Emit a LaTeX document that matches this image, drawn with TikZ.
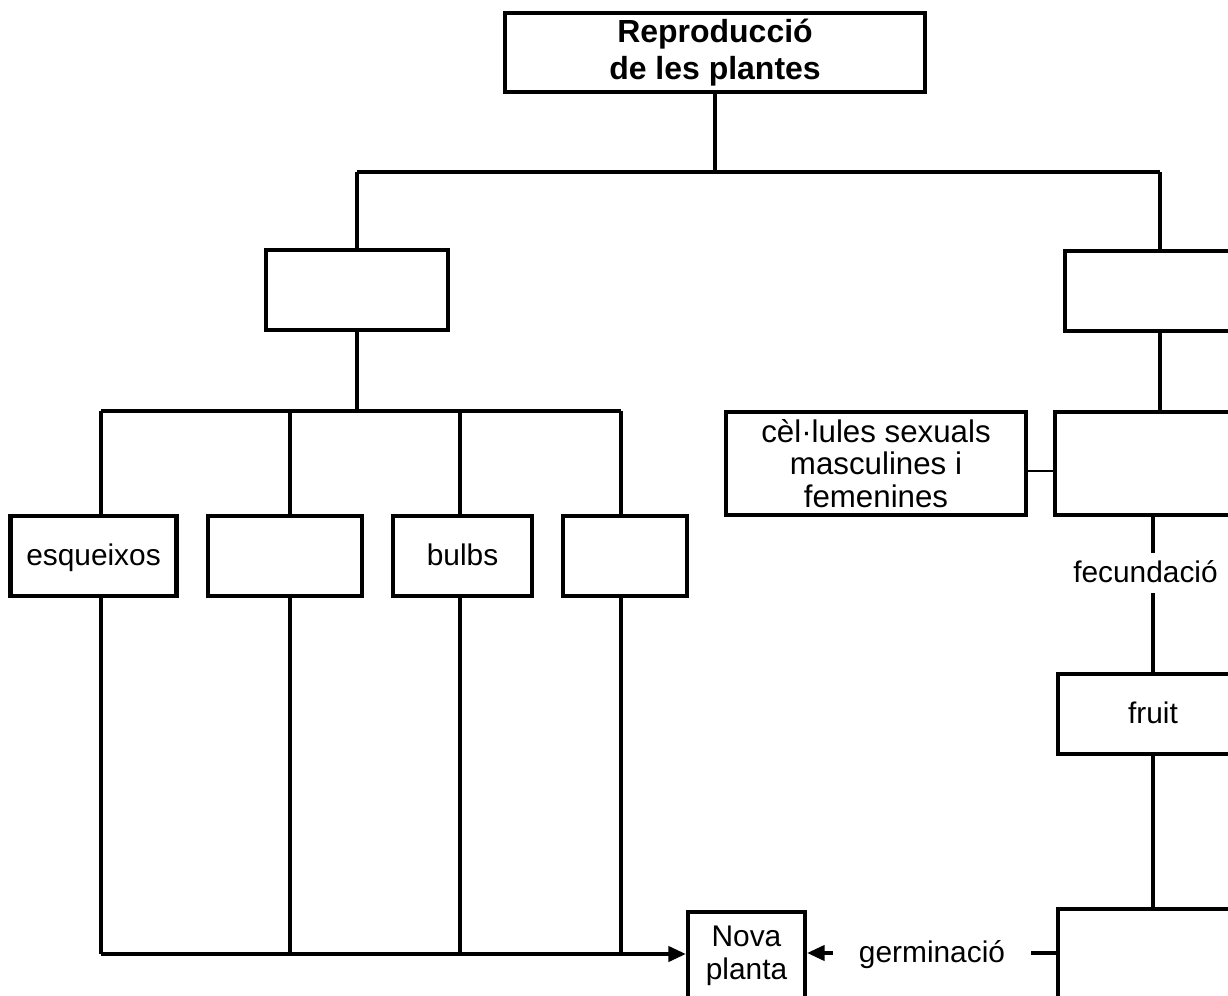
\documentclass[tikz,border=0pt]{standalone}
\usepackage{fontspec}
\setmainfont{Liberation Sans}
\usetikzlibrary{arrows.meta}
\begin{document}
\begin{tikzpicture}[x=0.02cm, y=-0.02cm,
  line width=2.3pt,
  frame/.style={draw, line width=2.3pt, inner sep=0pt},
  onebox/.style={frame, text height=0.4cm, text depth=0pt,
    font=\fontsize{17}{18.7}\selectfont},
  box/.style={frame, align=center, font=\fontsize{17}{18.7}\selectfont},
  title/.style={frame, align=center, font=\bfseries\fontsize{18.2}{21}\selectfont},
  word/.style={inner sep=0pt, text height=0.4cm, text depth=0pt,
    font=\fontsize{17}{18.7}\selectfont},
  tip/.style={-{Triangle[length=10pt, width=8.5pt]}},
  thin link/.style={line width=1.6pt}]
\useasboundingbox (0,0) rectangle (1228,996);
\clip (0,0) rectangle (1228,996);

% root
\node[title, minimum width=8.4cm, minimum height=1.58cm] (top) at (715,52.5)
  {Reproducció\\de les plantes};

% first level
\node[frame, minimum width=3.64cm, minimum height=1.6cm] (asex) at (357,290) {};
\node[frame, minimum width=3.8cm, minimum height=1.6cm] (sex) at (1160,291) {};

\coordinate (tl) at (357,172);
\coordinate (tr) at (1160,172);
\draw (top.south) -- (top.south |- tl);
\draw (tl) -- (tr);
\draw (tl) -- (asex.north);
\draw (tr) -- (sex.north);

% asexual branch
\coordinate (j1) at (101,411);
\coordinate (j2) at (290,411);
\coordinate (j3) at (460,411);
\coordinate (j4) at (621,411);
\draw (asex.south) -- (asex.south |- j1);
\draw (j1) -- (j4);

\node[onebox, minimum width=3.32cm, minimum height=1.6cm] (esq) at (93.5,556) {esqueixos};
\node[frame, minimum width=3.08cm, minimum height=1.6cm] (b2) at (285,556) {};
\node[onebox, minimum width=2.78cm, minimum height=1.6cm] (bulbs) at (462.5,556) {bulbs};
\node[frame, minimum width=2.48cm, minimum height=1.6cm] (b4) at (625,556) {};

\draw (j1) -- (j1 |- esq.north);
\draw (j2) -- (j2 |- b2.north);
\draw (j3) -- (j3 |- bulbs.north);
\draw (j4) -- (j4 |- b4.north);

\coordinate (k1) at (101,954);
\coordinate (k2) at (290,954);
\coordinate (k3) at (460,954);
\coordinate (k4) at (621,954);
\draw (esq.south -| k1) -- (k1);
\draw (b2.south -| k2) -- (k2);
\draw (bulbs.south -| k3) -- (k3);
\draw (b4.south -| k4) -- (k4);
\draw (k1) -- (k4);

\node[box, minimum width=2.34cm, minimum height=1.76cm] (nova) at (746.5,956) {Nova\\planta};
\draw[tip] (k4) -- (nova.west |- k4);

% sexual branch
\node[frame, minimum width=4cm, minimum height=2.06cm] (sex2) at (1155,463.5) {};
\node[box, font=\fontsize{17.8}{18.7}\selectfont, minimum width=6cm, minimum height=2.06cm] (cel) at (876,463.5)
  {cèl·lules sexuals\\masculines i\\femenines};
\draw (sex.south) -- (sex.south |- sex2.north);
\draw[thin link] ([yshift=-0.15cm]cel.east) -- ([yshift=-0.15cm]sex2.west);

\node[word, inner ysep=0.16cm] (fec) at (1145.5,573) {fecundació};
\node[onebox, minimum width=3.8cm, minimum height=1.6cm] (fruit) at (1153,714) {fruit};
\draw (sex2.south -| fruit.north) -- (fec.north -| fruit.north);
\draw (fec.south -| fruit.north) -- (fruit.north);

\node[frame, minimum width=3.8cm, minimum height=1.84cm] (seed) at (1153,955) {};
\draw (fruit.south) -- (seed.north);

\node[word, inner xsep=0.48cm] (germ) at (932,953) {germinació};
\draw[tip] (germ.west) -- (nova.east |- germ.west);
\draw (germ.east) -- (seed.west |- germ.east);
\end{tikzpicture}
\end{document}
